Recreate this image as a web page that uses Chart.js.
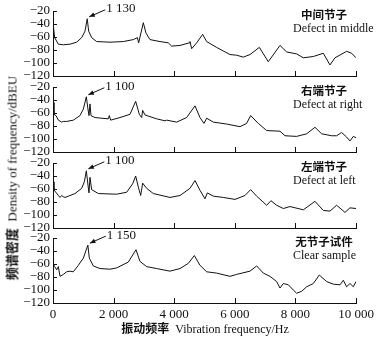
<!DOCTYPE html>
<html>
<head>
<meta charset="utf-8">
<script src="https://cdn.jsdelivr.net/npm/chart.js@4.4.1/dist/chart.umd.min.js"></script>
<style>
  html, body { margin: 0; padding: 0; background: #fff; }
  #wrap { position: relative; width: 378px; height: 340px; overflow: hidden; }
  #wrap canvas { position: absolute; left: 0; }
  .ytitle {
    position: absolute; left: 11px; top: 178px; white-space: nowrap;
    transform: translate(-50%, -50%) rotate(-90deg);
    font: 13px 'Liberation Serif', serif; color: #111;
  }
  .xtitle {
    position: absolute; left: 205px; top: 328px; white-space: nowrap;
    transform: translate(-50%, -50%);
    font: 12px 'Liberation Serif', serif; color: #111;
  }
  .zh { font-family: 'Noto Sans CJK SC', sans-serif; font-weight: bold; }
</style>
</head>
<body>
<div id="wrap">
  <canvas id="c0" width="378" height="88" style="top:0px"></canvas>
  <canvas id="c1" width="378" height="88" style="top:76px"></canvas>
  <canvas id="c2" width="378" height="88" style="top:152px"></canvas>
  <canvas id="c3" width="378" height="113" style="top:227px"></canvas>
  <div class="ytitle"><span class="zh">频谱密度</span>&nbsp; Density of frequency/dBEU</div>
  <div class="xtitle"><span class="zh">振动频率</span>&nbsp; Vibration frequency/Hz</div>
</div>
<script>
// 中间节子
const freqMiddle = [0, 55, 176, 341, 561, 781, 946, 1056, 1130, 1177, 1276, 1441, 1881, 2321, 2651, 2783, 2827, 2871, 2981, 3069,
  3201, 3531, 3806, 3916, 4191, 4499, 4521, 4576, 4741, 4939, 5071, 5401, 5841, 6061, 6281, 6501, 6809, 7106, 7491, 7711,
  8041, 8261, 8591, 8921, 9141, 9306, 9691, 9856, 10000];
const dbMiddle = [-38, -61, -71, -72, -71, -68, -61, -51, -32, -51, -61, -67, -68, -67, -64, -61, -69, -60, -38, -54,
  -64, -67, -69, -74, -73, -69, -67, -78, -69, -56, -67, -76, -87, -88, -91, -87, -76, -98, -73, -83,
  -86, -92, -90, -85, -103, -92, -82, -85, -92];

// 右端节子
const freqRight = [0, 33, 99, 176, 286, 341, 451, 671, 891, 1001, 1100, 1144, 1188, 1221, 1254, 1386, 1826, 1859, 1903, 2211,
  2541, 2728, 2849, 2926, 2959, 3036, 3421, 3696, 3751, 4081, 4411, 4686, 4851, 4983, 5071, 5291, 5731, 6171, 6391, 6523,
  6776, 7051, 7491, 7656, 8041, 8371, 8646, 8866, 9196, 9361, 9526, 9691, 9801, 9911, 10000];
const dbRight = [-44, -62, -64, -71, -74, -73, -73, -71, -64, -54, -35, -51, -64, -46, -64, -67, -69, -64, -71, -67,
  -62, -42, -62, -67, -56, -63, -69, -72, -71, -74, -67, -49, -67, -76, -68, -74, -77, -81, -76, -64,
  -76, -87, -88, -95, -96, -92, -82, -92, -95, -95, -90, -97, -103, -96, -98];

// 左端节子
const freqLeft = [0, 33, 99, 176, 231, 286, 341, 396, 506, 726, 946, 1034, 1100, 1155, 1188, 1221, 1276, 1496, 2101, 2431,
  2629, 2728, 2816, 2893, 2959, 3091, 3311, 3861, 4191, 4521, 4686, 4851, 5016, 5093, 5291, 5621, 6006, 6336, 6523, 6721,
  7051, 7194, 7381, 7601, 7821, 8261, 8646, 8921, 9141, 9361, 9636, 9801, 10000];
const dbLeft = [-49, -62, -65, -70, -73, -70, -72, -73, -71, -67, -59, -49, -32, -54, -66, -42, -61, -67, -68, -65,
  -52, -40, -57, -70, -51, -59, -67, -73, -70, -59, -47, -62, -75, -66, -71, -73, -76, -70, -61, -71,
  -85, -78, -85, -90, -87, -92, -79, -93, -94, -85, -96, -89, -90];

// 无节子试件
const freqClear = [0, 55, 121, 176, 231, 341, 451, 561, 671, 836, 1001, 1150, 1199, 1331, 1551, 1881, 2101, 2486, 2739, 2871,
  3091, 3421, 3861, 4191, 4466, 4664, 4851, 5071, 5401, 5841, 6061, 6501, 6721, 6941, 7161, 7381, 7491, 7601, 7766, 7931,
  8041, 8206, 8371, 8591, 8789, 9031, 9251, 9471, 9581, 9691, 9801, 9911, 10000];
const dbClear = [-59, -64, -69, -64, -79, -76, -72, -71, -72, -62, -51, -31, -51, -63, -67, -68, -66, -57, -38, -56,
  -64, -67, -71, -67, -59, -47, -62, -72, -74, -79, -76, -71, -63, -74, -79, -87, -97, -90, -92, -100,
  -105, -102, -95, -90, -77, -87, -91, -92, -85, -95, -90, -95, -87];

const xTicks = [0, 2000, 4000, 6000, 8000, 10000];
const yTicks = [-120, -100, -80, -60, -40, -20];
const panelZh = ['中间节子', '右端节子', '左端节子', '无节子试件'];
const panelEn = ['Defect in middle', 'Defect at right', 'Defect at left', 'Clear sample'];
const peakFreqs = [1130, 1100, 1100, 1150];

const seriesFreq = [freqMiddle, freqRight, freqLeft, freqClear];
const seriesDb = [dbMiddle, dbRight, dbLeft, dbClear];

const serif = "'Liberation Serif', 'Times New Roman', serif";
const zhFont = "'Noto Sans CJK SC', sans-serif";

function fmtNum(v) {
  if (Math.abs(v) >= 1000) {
    return Math.floor(v / 1000) + ' ' + String(v % 1000).padStart(3, '0');
  }
  return String(v);
}

// ticks pointing inward, peak arrow and panel caption
const decoPlugin = {
  id: 'deco',
  afterDraw(chart, args, opts) {
    const i = opts.index;
    const { ctx, chartArea: a, scales: { x, y } } = chart;
    ctx.save();
    ctx.strokeStyle = '#111';
    ctx.lineWidth = 1;
    ctx.beginPath();
    yTicks.forEach(v => {
      const py = Math.round(y.getPixelForValue(v)) + 0.5;
      ctx.moveTo(a.left, py);
      ctx.lineTo(a.left + 4, py);
    });
    xTicks.forEach(v => {
      const px = Math.round(x.getPixelForValue(v)) + 0.5;
      ctx.moveTo(px, a.bottom);
      ctx.lineTo(px, a.bottom - 5);
    });
    ctx.stroke();

    // arrow to the first peak
    const k = seriesFreq[i].indexOf(peakFreqs[i]);
    const tipX = x.getPixelForValue(peakFreqs[i]) + 2;
    const tipY = y.getPixelForValue(seriesDb[i][k]) - 2;
    const tailX = tipX + 16, tailY = tipY - 7;
    ctx.beginPath();
    ctx.moveTo(tailX, tailY);
    ctx.lineTo(tipX, tipY);
    ctx.stroke();
    const ang = Math.atan2(tipY - tailY, tipX - tailX);
    ctx.fillStyle = '#111';
    ctx.beginPath();
    ctx.moveTo(tipX, tipY);
    ctx.lineTo(tipX - 6 * Math.cos(ang - 0.4), tipY - 6 * Math.sin(ang - 0.4));
    ctx.lineTo(tipX - 6 * Math.cos(ang + 0.4), tipY - 6 * Math.sin(ang + 0.4));
    ctx.closePath();
    ctx.fill();
    ctx.font = '13px ' + serif;
    ctx.textAlign = 'left';
    ctx.textBaseline = 'middle';
    ctx.fillText(fmtNum(peakFreqs[i]), tailX + 1, tailY - 1);

    // caption
    ctx.font = 'bold 11.5px ' + zhFont;
    ctx.textAlign = 'center';
    ctx.fillText(panelZh[i], 324, a.top + 4);
    ctx.font = '12px ' + serif;
    ctx.textAlign = 'left';
    ctx.fillText(panelEn[i], 293, a.top + 18);
    ctx.restore();
  }
};

function drawPanel(i) {
  const last = i === 3;
  const canvas = document.getElementById('c' + i);
  return new Chart(canvas.getContext('2d'), {
    type: 'line',
    data: {
      datasets: [{
        data: seriesFreq[i].map((f, j) => ({ x: f, y: seriesDb[i][j] })),
        borderColor: '#111',
        borderWidth: 1,
        pointRadius: 0,
        tension: 0,
        fill: false
      }]
    },
    plugins: [decoPlugin],
    options: {
      responsive: false,
      animation: false,
      layout: { padding: { top: 11, left: 0, right: 22, bottom: last ? 0 : 12 } },
      plugins: {
        legend: { display: false },
        tooltip: { enabled: false },
        deco: { index: i }
      },
      scales: {
        x: {
          type: 'linear',
          min: 0,
          max: 10000,
          afterFit: s => { s.height = last ? 37 : 0; },
          afterBuildTicks: s => { s.ticks = xTicks.map(v => ({ value: v })); },
          grid: { display: true, drawOnChartArea: false, drawTicks: false },
          border: { display: true, color: '#111', width: 1 },
          ticks: {
            display: last,
            autoSkip: false,
            padding: 4,
            maxRotation: 0,
            color: '#111',
            font: { family: serif, size: 13 },
            callback: v => fmtNum(v)
          }
        },
        y: {
          min: -120,
          max: -20,
          afterFit: s => { s.width = 53; },
          afterBuildTicks: s => { s.ticks = yTicks.map(v => ({ value: v })); },
          grid: { display: true, drawOnChartArea: false, drawTicks: false },
          border: { display: true, color: '#111', width: 1 },
          ticks: {
            autoSkip: false,
            padding: 3,
            color: '#111',
            font: { family: serif, size: 13 },
            callback: v => (v < 0 ? '\u2212' + Math.abs(v) : String(v))
          }
        }
      }
    }
  });
}

[0, 1, 2, 3].forEach(drawPanel);
</script>
</body>
</html>
